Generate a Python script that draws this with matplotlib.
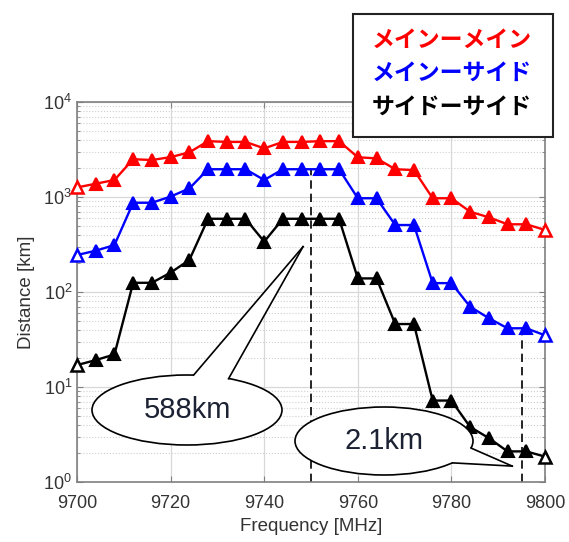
import numpy as np
import matplotlib
matplotlib.use('Agg')
import matplotlib.pyplot as plt
from matplotlib.patches import Ellipse, Polygon, Rectangle
from matplotlib.lines import Line2D

plt.rcParams['font.family'] = ['Liberation Sans', 'DejaVu Sans']
plt.rcParams['mathtext.default'] = 'regular'

# dados
freq = np.arange(9700, 9801, 4)

main_main = [1260, 1380, 1510, 2500, 2450, 2630, 2950, 3870, 3800, 3800, 3250, 3800, 3800,
             3870, 3870, 2620, 2550, 1960, 1920, 970, 970, 700, 611, 516, 516, 450]
main_side = [245, 272, 312, 870, 870, 1010, 1230, 1960, 1960, 1960, 1510, 1960, 1960,
             1960, 1960, 970, 970, 507, 507, 124, 124, 70, 53, 41.5, 41.5, 35]
side_side = [17, 19.2, 22, 125, 125, 160, 217, 590, 590, 590, 339, 590, 590,
             590, 590, 139, 139, 46, 46, 7.2, 7.2, 3.8, 2.9, 2.1, 2.1, 1.85]

series_names = ['メインーメイン', 'メインーサイド', 'サイドーサイド']
series_colors = ['#ff0000', '#0000ff', '#000000']

# linhas tracejadas e balões
marker_freqs = [9750, 9795]
marker_tops = [1960, 41]
callout_texts = ['588km', '2.1km']
callout_tips = [(9748.3, 300), (9793, 1.47)]

W, H = 569, 542
fig = plt.figure(figsize=(W / 100, H / 100), dpi=100)
ax = fig.add_axes([77 / W, 1 - 482 / H, (545 - 77) / W, (482 - 102) / H])

n = len(freq)
for vals, col in zip([main_main, main_side, side_side], series_colors):
    # pontos internos preenchidos, extremos vazados
    ax.plot(freq, vals, color=col, lw=1.7, marker='^', ms=8.5,
            mfc=col, mec=col, mew=1.5, markevery=list(range(1, n - 1)),
            zorder=3, clip_on=False)
    ax.plot(freq[[0, -1]], np.array(vals)[[0, -1]], ls='none', marker='^', ms=8.5,
            mfc='white', mec=col, mew=1.8, zorder=4, clip_on=False)

for f, top in zip(marker_freqs, marker_tops):
    ax.plot([f, f], [1, top], color='black', lw=1.2, ls=(0, (5, 3)), zorder=2)

ax.set_yscale('log')
ax.set_xlim(9700, 9800)
ax.set_ylim(1, 1e4)
ax.set_xticks(np.arange(9700, 9801, 20))
ax.grid(True, which='major', color='#d8d8d8', lw=0.9, ls='-')
ax.grid(True, which='minor', axis='y', color='#cfcfcf', lw=0.8, ls=':')
ax.set_axisbelow(True)
ax.tick_params(which='both', direction='in', top=True, right=True,
               colors='#808080', labelcolor='#333333', labelsize=13)
ax.tick_params(which='major', length=4)
ax.tick_params(which='minor', length=2.5)
ax.tick_params(axis='x', pad=9)
for s in ax.spines.values():
    s.set_color('#808080')
    s.set_linewidth(1.2)

ax.set_xlabel('Frequency [MHz]', fontsize=13.5, color='#333333', labelpad=5)
ax.set_ylabel('Distance [km]', fontsize=13.5, color='#333333', labelpad=6)


# balões de fala (coordenadas em pixels da figura)
def px2fig(x, y):
    return (x / W, 1 - y / H)


def callout(cx, cy, a, b, ang1, ang2, tip_data, text):
    tip_disp = ax.transData.transform(tip_data)
    tip = fig.transFigure.inverted().transform(tip_disp)
    ell = Ellipse(px2fig(cx, cy), 2 * a / W, 2 * b / H, facecolor='white',
                  edgecolor='black', lw=1.2, transform=fig.transFigure, zorder=10)
    fig.add_artist(ell)
    p1 = (cx + a * np.cos(np.radians(ang1)), cy - b * np.sin(np.radians(ang1)))
    p2 = (cx + a * np.cos(np.radians(ang2)), cy - b * np.sin(np.radians(ang2)))
    q1 = (cx + 0.9 * a * np.cos(np.radians(ang1)), cy - 0.9 * b * np.sin(np.radians(ang1)))
    q2 = (cx + 0.9 * a * np.cos(np.radians(ang2)), cy - 0.9 * b * np.sin(np.radians(ang2)))
    fill = Polygon([px2fig(*q1), px2fig(*p1), tip, px2fig(*p2), px2fig(*q2)],
                   closed=True, facecolor='white', edgecolor='none',
                   transform=fig.transFigure, zorder=11)
    fig.add_artist(fill)
    for p in (p1, p2):
        xs = [px2fig(*p)[0], tip[0]]
        ys = [px2fig(*p)[1], tip[1]]
        fig.add_artist(Line2D(xs, ys, color='black', lw=1.2,
                              transform=fig.transFigure, zorder=12))
    fig.text(*px2fig(cx, cy), text, ha='center', va='center', fontsize=21,
             color='#1c2233', zorder=13)


callout(187, 410, 95, 35, 86, 64, callout_tips[0], callout_texts[0])
callout(384, 441, 89, 34, -12, -40, callout_tips[1], callout_texts[1])

# caixa de legenda
box_x0, box_y0 = px2fig(353, 137)
box = Rectangle((box_x0, box_y0), (553 - 353) / W, (137 - 14) / H,
                facecolor='white', edgecolor='#222222', lw=1.5,
                transform=fig.transFigure, zorder=20)
fig.add_artist(box)
for name, col, yy in zip(series_names, series_colors, [40, 73, 107]):
    fig.text(*px2fig(372, yy), name, ha='left', va='center', fontsize=16.5,
             fontweight='bold', color=col, family=['Noto Sans CJK JP'], zorder=21)

fig.savefig('out.png', dpi=100)
